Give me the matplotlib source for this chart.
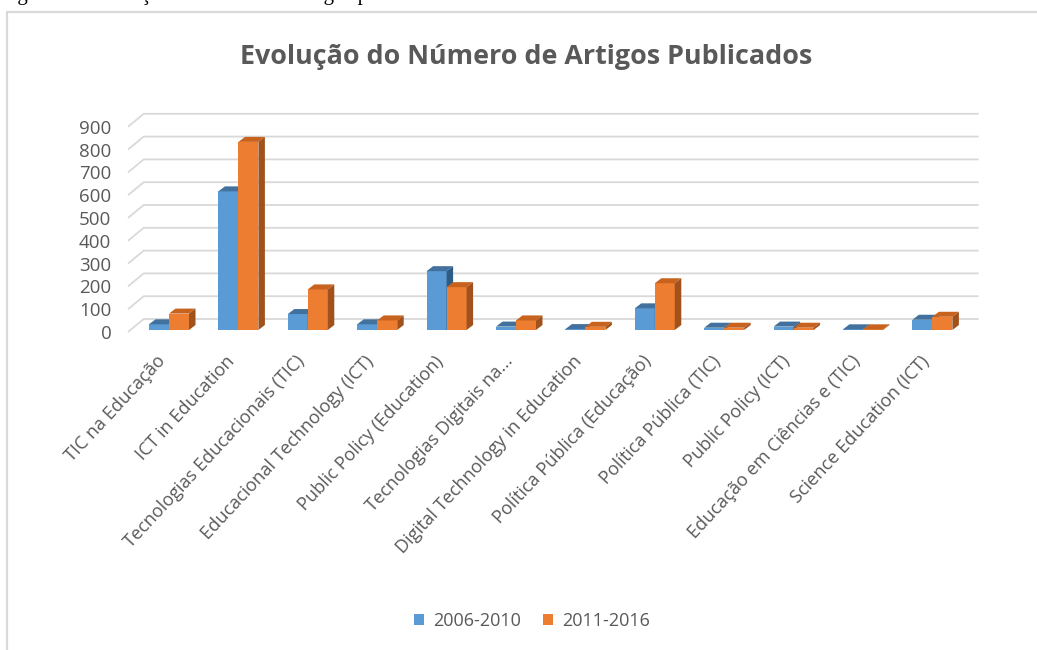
"""Excel-style 3D clustered column chart: articles published per search term."""

import matplotlib
matplotlib.use("Agg")
import matplotlib.pyplot as plt
from matplotlib.patches import Patch, Polygon
from matplotlib.transforms import offset_copy
from matplotlib.lines import Line2D
import numpy as np

categories = [
    "TIC na Educação",
    "ICT in Education",
    "Tecnologias Educacionais (TIC)",
    "Educacional Technology (ICT)",
    "Public Policy (Education)",
    "Tecnologias Digitais na...",
    "Digital Technology in Education",
    "Política Pública (Educação)",
    "Política Pública (TIC)",
    "Public Policy (ICT)",
    "Educação em Ciências e (TIC)",
    "Science Education (ICT)",
]
series_names = ["2006-2010", "2011-2016"]
values_2006_2010 = [25, 608, 70, 25, 258, 15, 4, 95, 10, 15, 3, 45]
values_2011_2016 = [72, 825, 178, 42, 188, 42, 14, 205, 10, 10, 3, 58]
y_ticks = [0, 100, 200, 300, 400, 500, 600, 700, 800, 900]

title = "Evolução do Número de Artigos Publicados"
caption = "Figura 2 – Evolução do número de artigos publicados"

FRONT = ["#5B9BD5", "#ED7D31"]
TOP = ["#41719C", "#C8621F"]
SIDE = ["#2F5C86", "#A0511C"]
GRID = "#D9D9D9"
TEXT = "#595959"
FONT = "Open Sans"

# geometry (pixels at dpi 100 -> data units)
PX_PER_CAT = 69.4
PX_PER_100 = 22.8
BAR_W = 20 / PX_PER_CAT
BAR_DX, BAR_DY = 6.5 / PX_PER_CAT, 5 / PX_PER_100 * 100
GRID_DX, GRID_DY = 15.7 / PX_PER_CAT, 13 / PX_PER_100 * 100
XL, XR = -0.562, 11.47

fig = plt.figure(figsize=(10.37, 6.5), dpi=100)
W, H = 1037, 650
ax = fig.add_axes([128 / W, (H - 332) / H, 835 / W, 9 * PX_PER_100 / H])
ax.set_xlim(XL, XR)
ax.set_ylim(0, 900)
ax.patch.set_visible(False)
for sp in ax.spines.values():
    sp.set_visible(False)

# floor / back wall gridlines
for v in y_ticks:
    ax.plot([XL, XL + GRID_DX, XR + GRID_DX], [v, v + GRID_DY, v + GRID_DY],
            color=GRID, lw=1.3, clip_on=False, zorder=1, solid_capstyle="butt")

# 3D columns
xs = np.arange(len(categories))
bar_tr = offset_copy(ax.transData, fig=fig, x=2, y=2, units="dots")
for s, vals in enumerate([values_2006_2010, values_2011_2016]):
    centers = xs + (s - 0.5) * BAR_W
    ax.bar(centers, vals, width=BAR_W, color=FRONT[s], transform=bar_tr,
           zorder=3 + s, linewidth=0, clip_on=False)
    for c, v in zip(centers, vals):
        x0, x1 = c - BAR_W / 2, c + BAR_W / 2
        top = [(x0, v), (x1, v), (x1 + BAR_DX, v + BAR_DY), (x0 + BAR_DX, v + BAR_DY)]
        side = [(x1, 0), (x1, v), (x1 + BAR_DX, v + BAR_DY), (x1 + BAR_DX, BAR_DY)]
        ax.add_patch(Polygon(top, closed=True, facecolor=TOP[s], edgecolor="none",
                             transform=bar_tr, zorder=3 + s, clip_on=False))
        ax.add_patch(Polygon(side, closed=True, facecolor=SIDE[s], edgecolor="none",
                             transform=bar_tr, zorder=3 + s, clip_on=False))

ax.set_yticks(y_ticks)
ax.set_yticklabels([str(t) for t in y_ticks], fontsize=13.5, color=TEXT, family=FONT)
ax.tick_params(axis="y", length=0, pad=12)

ax.set_xticks(xs - 0.06)
ax.set_xticklabels(categories, fontsize=13.1, color=TEXT, family=FONT,
                   rotation=47, ha="right", va="center", rotation_mode="anchor")
ax.tick_params(axis="x", length=0, pad=19)

fig.text(526 / W, 1 - 57 / H, title, ha="center", va="center",
         fontsize=19.4, fontweight="bold", color=TEXT, family=FONT)

# document caption above the chart frame, cropped by the picture's top edge
fig.text(0 / W, 1.0, caption, ha="left", va="baseline",
         fontsize=15, color="black", family="Liberation Serif")

# chart frame (top and left edges visible)
fig.add_artist(Line2D([7 / W, 7 / W, 1.0], [0.0, 1 - 12 / H, 1 - 12 / H],
                      transform=fig.transFigure, color=GRID, lw=1.6))

handles = [Patch(facecolor=FRONT[i], edgecolor="none", label=series_names[i]) for i in range(2)]
leg = fig.legend(handles=handles, loc="center", bbox_to_anchor=(532 / W, 1 - 621 / H),
                 ncol=2, frameon=False, handlelength=0.55, handleheight=0.55,
                 handletextpad=0.5, columnspacing=1.2,
                 prop={"family": FONT, "size": 13})
for t in leg.get_texts():
    t.set_color(TEXT)

fig.savefig("out.png", dpi=100, facecolor="white")
